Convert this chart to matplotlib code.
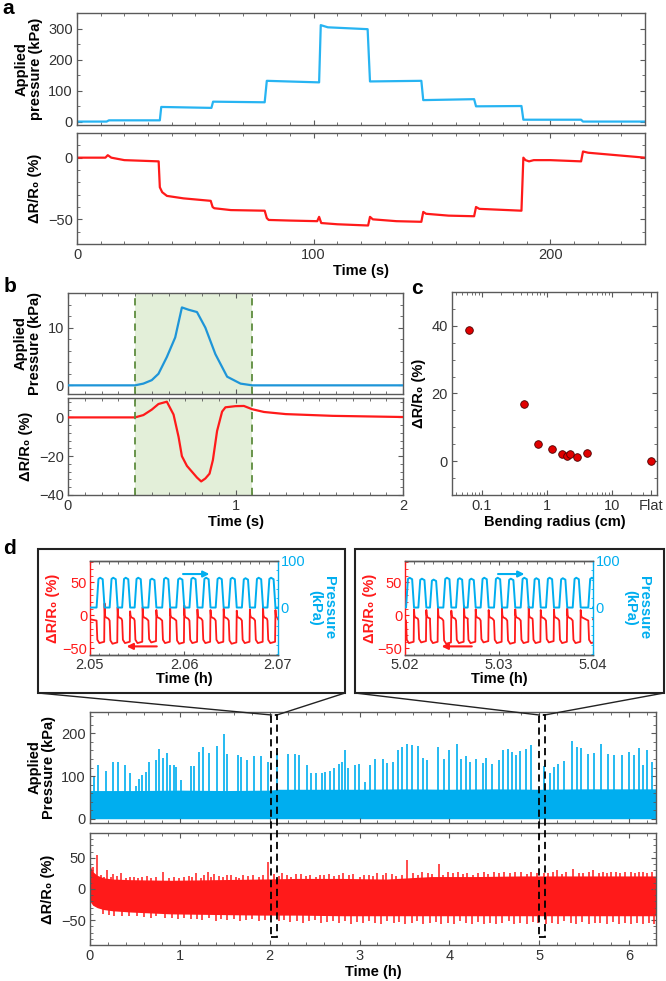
import numpy as np
import matplotlib
matplotlib.use("Agg")
import matplotlib.pyplot as plt
from matplotlib.ticker import MultipleLocator, LogLocator, NullFormatter
from matplotlib.patches import Rectangle
from matplotlib.lines import Line2D
from matplotlib.transforms import blended_transform_factory

plt.rcParams['font.family'] = ['Liberation Sans', 'DejaVu Sans']

# ---------------- data ----------------
# panel a : step pressure test
a_time_p = [0, 12.5, 13.5, 35.0, 35.6, 56.8, 57.5, 79.3, 80.2, 102.3, 103.0, 106.0, 122.8, 123.8,
            145.5, 146.3, 167.8, 168.6, 187.8, 188.6, 213.0, 213.8, 240]
a_pressure = [1, 1, 5, 5, 48, 45, 65, 63, 132, 127, 311, 304, 298, 130,
              132, 70, 73, 50, 51, 7, 7, 1, 1]
a_time_r = [0, 12, 13, 14.5, 20, 34.5, 35, 36, 38, 45, 56.5, 57.3, 58, 65, 79.3, 80.2, 81, 90,
            101.5, 102.3, 103.2, 110, 123, 123.8, 125, 135, 145.5, 146.3, 147.5, 157, 167.8, 168.6,
            170, 187.8, 188.6, 189.5, 191, 193, 200, 213, 213.8, 216, 228, 240]
a_resist = [0, 0, 2, 0, -2, -3, -24, -28, -31, -33, -35, -40, -41, -42.5, -43, -49, -50.5, -51,
            -51.5, -48, -53, -54, -55, -48, -50, -51.5, -52, -44, -45.5, -47, -47.5, -40,
            -41.5, -43, 0, -2, -3, -2, -2, -3, 5, 4, 2, 0]

# panel b : single press
b_time_p = [0, 0.40, 0.45, 0.50, 0.54, 0.59, 0.64, 0.68, 0.72, 0.77, 0.82, 0.88, 0.95, 1.03, 1.10, 2.0]
b_pressure = [0, 0, 0.3, 0.9, 2.0, 4.9, 8.3, 13.5, 13.1, 12.7, 10.0, 5.4, 1.5, 0.3, 0, 0]
b_time_r = [0, 0.40, 0.45, 0.50, 0.54, 0.59, 0.63, 0.66, 0.68, 0.71, 0.735, 0.77, 0.795, 0.82,
            0.845, 0.865, 0.89, 0.92, 0.94, 1.00, 1.05, 1.10, 1.17, 1.30, 1.58, 2.0]
b_resist = [0, 0, 1.2, 4.0, 6.9, 8.1, 1.5, -10, -20, -25, -27.5, -31, -33, -31.5,
            -29, -22, -7, 3, 5.2, 5.8, 5.9, 4.2, 2.8, 1.7, 0.8, 0.2]
b_window = [0.40, 1.10]

# panel c : bending
c_radius = [0.065, 0.45, 0.73, 1.19, 1.72, 2.08, 2.28, 2.92, 4.17, 40]
c_resist = [38.8, 17.0, 5.0, 3.6, 2.0, 1.6, 2.1, 1.3, 2.5, 0.0]
c_xticks = [0.1, 1, 10, 40]
c_xlabels = ['0.1', '1', '10', 'Flat']

# panel d : long-term cycling (envelope of the dense signal + visible peaks)
d_blue_t = [0, 0.5, 1.0, 1.5, 2.0, 2.1, 2.5, 3.0, 3.5, 4.0, 4.5, 5.0, 5.5, 6.0, 6.3]
d_blue_top = [66, 66, 67, 66, 67, 69, 69, 69, 70, 69, 70, 69, 70, 70, 70]
d_bspike_t = [0.04, 0.09, 0.18, 0.26, 0.31, 0.39, 0.45, 0.51, 0.54, 0.58, 0.62, 0.66, 0.73, 0.77,
              0.81, 0.86, 0.89, 0.93, 0.96, 1.01, 1.12, 1.16, 1.21, 1.26, 1.33, 1.41, 1.49, 1.53,
              1.65, 1.68, 1.75, 1.83, 1.90, 1.98, 2.08, 2.20, 2.28, 2.33, 2.41, 2.46, 2.51, 2.58,
              2.62, 2.67, 2.72, 2.77, 2.80, 2.84, 2.87, 2.95, 2.99, 3.06, 3.12, 3.17, 3.26, 3.31,
              3.37, 3.43, 3.47, 3.53, 3.58, 3.65, 3.71, 3.75, 3.87, 3.94, 4.00, 4.08, 4.13, 4.18,
              4.23, 4.30, 4.37, 4.41, 4.47, 4.55, 4.60, 4.65, 4.70, 4.74, 4.79, 4.85, 4.91, 5.05,
              5.12, 5.17, 5.21, 5.28, 5.36, 5.42, 5.47, 5.54, 5.61, 5.69, 5.77, 5.83, 5.92, 6.00,
              6.05, 6.11, 6.16, 6.20, 6.25]
d_bspike_v = [98, 127, 112, 132, 133, 125, 106, 76, 94, 102, 109, 132, 137, 163,
              143, 153, 125, 126, 122, 90, 124, 123, 157, 169, 153, 170, 198, 151,
              149, 145, 137, 147, 147, 133, 153, 151, 151, 149, 127, 108, 108, 108,
              110, 111, 118, 128, 132, 161, 118, 127, 128, 86, 125, 140, 140, 131,
              133, 162, 169, 175, 173, 170, 143, 137, 169, 141, 162, 176, 140, 147,
              133, 140, 131, 143, 128, 137, 161, 164, 157, 149, 158, 163, 172, 123,
              106, 122, 129, 136, 182, 169, 165, 151, 153, 175, 151, 149, 149, 157,
              149, 166, 125, 161, 132]
d_red_t = [0, 0.03, 0.08, 0.15, 0.25, 0.45, 0.9, 1.4, 1.9, 2.3, 2.8, 3.3, 3.8, 4.3, 4.8, 5.3, 5.8, 6.3]
d_red_hi = [38, 28, 22, 18, 16, 15, 14, 15, 16, 17, 17, 16, 20, 20, 21, 21, 21, 21]
d_red_lo = [-20, -26, -30, -33, -35, -37, -40, -41, -42, -42, -43, -43, -43, -43, -43, -43, -43, -43]
d_rspike_t = [0.03, 0.08, 0.19, 0.26, 0.35, 0.58, 0.81, 1.05, 1.18, 1.31, 1.38, 1.52, 1.70, 1.98,
              2.14, 2.35, 2.56, 2.82, 3.05, 3.30, 3.53, 3.70, 3.88, 4.10, 4.32, 4.50, 4.80, 5.05,
              5.20, 5.38, 5.60, 5.80, 5.95, 6.15]
d_rspike_v = [36, 54, 30, 24, 26, 20, 27, 20, 25, 28, 24, 22, 22, 43,
              26, 24, 22, 25, 22, 25, 46, 28, 40, 27, 26, 28, 28, 26,
              30, 32, 30, 28, 27, 28]
d_rtop_t = [0.12, 0.16, 0.23, 0.30, 0.40, 0.44, 0.49, 0.53, 0.63, 0.68,
            0.73, 0.88, 0.93, 0.99, 1.10, 1.14, 1.23, 1.27, 1.35, 1.44,
            1.48, 1.57, 1.62, 1.66, 1.76, 1.81, 1.88, 1.93, 2.05, 2.10,
            2.19, 2.24, 2.29, 2.40, 2.45, 2.52, 2.61, 2.66, 2.72, 2.77,
            2.88, 2.93, 3.00, 3.10, 3.15, 3.20, 3.26, 3.36, 3.41, 3.47,
            3.60, 3.65, 3.76, 3.81, 3.93, 3.98, 4.04, 4.15, 4.20, 4.26,
            4.38, 4.43, 4.55, 4.61, 4.67, 4.73, 4.86, 4.91, 4.97, 5.10,
            5.15, 5.25, 5.30, 5.44, 5.49, 5.55, 5.66, 5.71, 5.76, 5.86,
            5.90, 6.02, 6.07, 6.11, 6.20, 6.26]
d_rtop_v = [22, 20, 19, 21, 18, 20, 19, 18, 21, 17,
            19, 18, 20, 17, 21, 19, 18, 22, 20, 21,
            19, 22, 20, 18, 21, 23, 20, 22, 24, 21,
            22, 20, 24, 21, 23, 20, 22, 24, 21, 23,
            22, 24, 20, 23, 21, 25, 22, 24, 21, 23,
            25, 22, 26, 24, 23, 27, 25, 24, 26, 23,
            27, 24, 26, 28, 25, 27, 24, 28, 26, 25,
            27, 24, 28, 26, 25, 28, 26, 27, 25, 28,
            26, 27, 25, 28, 26, 27]
d_rdip_t = [0.14, 0.21, 0.27, 0.36, 0.43, 0.52, 0.60, 0.68, 0.74, 0.83,
            0.91, 0.98, 1.05, 1.12, 1.19, 1.25, 1.33, 1.40, 1.46, 1.53,
            1.60, 1.67, 1.74, 1.80, 1.88, 1.95, 2.10, 2.16, 2.23, 2.30,
            2.37, 2.44, 2.50, 2.57, 2.64, 2.70, 2.77, 2.84, 2.90, 2.97,
            3.04, 3.11, 3.17, 3.24, 3.31, 3.38, 3.44, 3.51, 3.58, 3.64,
            3.71, 3.78, 3.85, 3.91, 3.98, 4.05, 4.12, 4.18, 4.25, 4.32,
            4.39, 4.45, 4.52, 4.59, 4.66, 4.72, 4.79, 4.86, 4.93, 4.99,
            5.08, 5.14, 5.21, 5.28, 5.35, 5.41, 5.48, 5.55, 5.62, 5.68,
            5.75, 5.82, 5.89, 5.95, 6.02, 6.09, 6.16, 6.22, 6.28]
d_rdip_v = [-40, -41, -43, -43, -44, -43, -45, -46, -44, -47,
            -46, -48, -47, -49, -48, -50, -47, -51, -49, -50,
            -48, -52, -50, -49, -51, -50, -52, -50, -53, -51,
            -54, -52, -50, -55, -53, -51, -54, -52, -56, -53,
            -55, -51, -54, -56, -52, -55, -53, -57, -54, -52,
            -56, -55, -53, -57, -54, -56, -52, -55, -57, -53,
            -56, -54, -57, -55, -52, -56, -54, -57, -53, -55,
            -56, -54, -57, -52, -55, -56, -53, -57, -55, -54,
            -56, -53, -57, -55, -56, -54, -57, -55, -56]
d_windows = [(2.02, 2.08), (5.00, 5.06)]

# panel d insets : individual press cycles
ins_xlim = [(2.05, 2.07), (5.02, 5.04)]
ins_starts = [
    [2.05070, 2.05209, 2.05342, 2.05475, 2.05621, 2.05768, 2.05918, 2.06058, 2.06197,
     2.06337, 2.06476, 2.06616, 2.06756, 2.06888],
    [5.02011, 5.02142, 5.02266, 5.02408, 5.02543, 5.02667, 5.02805, 5.02947, 5.03088,
     5.03231, 5.03359, 5.03500, 5.03641, 5.03784, 5.03950]]
ins_peaks = [[64, 64, 64, 64, 62, 64, 63, 64, 64, 64, 64, 63, 64, 64],
             [64, 62, 60, 64, 63, 62, 64, 64, 62, 64, 63, 64, 63, 64, 64]]
ins_lows = [[-42, -43, -42, -42, -41, -42, -43, -42, -42, -42, -43, -42, -42, -42],
            [-42, -41, -42, -43, -42, -42, -41, -42, -43, -42, -42, -41, -42, -42, -42]]
ins_spikes = [[18, 12, 6, 12, 8, 10, 15, 9, 8, 10, 7, 9, 12, 8],
              [9, 8, 12, 7, 14, 9, 8, 10, 9, 13, 8, 9, 10, 8, 20]]
ins_ticks = [[2.05, 2.06, 2.07], [5.02, 5.03, 5.04]]

# ---------------- style ----------------
BLUE_A = '#27B4F2'
BLUE_B = '#1E95D8'
CYAN = '#00AEEF'
RED = '#FF1A1A'
SP = '#5a5a5a'
W, H = 666, 981
fig = plt.figure(figsize=(W / 100, H / 100), dpi=100)


def add_ax(x0, y0, x1, y1):
    return fig.add_axes([x0 / W, 1 - y1 / H, (x1 - x0) / W, (y1 - y0) / H])


def style(ax, xminor=None, yminor=None):
    for s in ax.spines.values():
        s.set_color(SP)
        s.set_linewidth(1.0)
    ax.tick_params(which='both', direction='in', top=True, right=True, color=SP,
                   labelcolor='#333333', labelsize=10.5, pad=3)
    ax.tick_params(which='major', length=3.5, width=0.8)
    ax.tick_params(which='minor', length=2, width=0.6)
    if xminor:
        ax.xaxis.set_minor_locator(MultipleLocator(xminor))
    if yminor:
        ax.yaxis.set_minor_locator(MultipleLocator(yminor))


LBL = dict(fontweight='bold', fontsize=10.5)
DR = 'ΔR/R₀ (%)'

# ---------------- panel a ----------------
ax = add_ax(77, 13, 645, 125)
ax.plot(a_time_p, a_pressure, color=BLUE_A, lw=1.6)
ax.set_xlim(0, 240)
ax.set_ylim(-10, 350)
ax.set_yticks([0, 100, 200, 300])
ax.set_xticks([0, 100, 200])
style(ax, 10, 50)
ax.tick_params(labelbottom=False)
ax.set_ylabel('Applied\npressure (kPa)', linespacing=1.0, **LBL)

ax = add_ax(77, 133, 645, 244)
ax.plot(a_time_r, a_resist, color=RED, lw=1.6)
ax.set_xlim(0, 240)
ax.set_ylim(-70, 20)
ax.set_yticks([-50, 0])
ax.set_xticks([0, 100, 200])
style(ax, 10, 10)
ax.set_ylabel(DR, **LBL)
ax.set_xlabel('Time (s)', labelpad=1, **LBL)

# ---------------- panel b ----------------
axb1 = add_ax(68, 293, 403, 394)
axb1.plot(b_time_p, b_pressure, color=BLUE_B, lw=1.6, zorder=3)
axb1.set_xlim(0, 2)
axb1.set_ylim(-1.5, 16)
axb1.set_yticks([0, 10])
axb1.set_xticks([0, 1, 2])
style(axb1, 0.1, 2)
axb1.tick_params(labelbottom=False)
axb1.set_ylabel('Applied\nPressure (kPa)', linespacing=1.0, **LBL)

axb2 = add_ax(68, 398, 403, 495)
axb2.plot(b_time_r, b_resist, color=RED, lw=1.6, zorder=3)
axb2.set_xlim(0, 2)
axb2.set_ylim(-40, 10)
axb2.set_yticks([-40, -20, 0])
axb2.set_xticks([0, 1, 2])
style(axb2, 0.1, 4)
axb2.set_ylabel(DR, **LBL)
axb2.set_xlabel('Time (s)', labelpad=1, **LBL)
for a_ in (axb1, axb2):
    a_.axvspan(b_window[0], b_window[1], color='#E3EFD9', lw=0, zorder=0)
tb = blended_transform_factory(axb1.transData, fig.transFigure)
for xv in b_window:
    fig.add_artist(Line2D([xv, xv], [1 - 495 / H, 1 - 293 / H], transform=tb,
                          color='#5E8C3E', ls=(0, (4, 3)), lw=1.3))

# ---------------- panel c ----------------
axc = add_ax(452, 292, 657, 495)
axc.scatter(c_radius, c_resist, s=30, color='#E00000', edgecolor='#4a0000', lw=0.6, zorder=3)
axc.set_xscale('log')
axc.set_xlim(0.035, 50)
axc.set_ylim(-10, 50)
style(axc, None, 5)
axc.set_xticks(c_xticks)
axc.set_xticklabels(c_xlabels)
axc.xaxis.set_minor_locator(LogLocator(base=10, subs=np.arange(2, 10)))
axc.xaxis.set_minor_formatter(NullFormatter())
axc.set_yticks([0, 20, 40])
axc.set_ylabel(DR, **LBL)
axc.set_xlabel('Bending radius (cm)', labelpad=1, **LBL)

# ---------------- panel d main ----------------
axd1 = add_ax(90, 712, 656, 823)
axd1.fill_between(d_blue_t, 0, d_blue_top, color=CYAN, lw=0)
axd1.vlines(d_bspike_t, 0, d_bspike_v, color=CYAN, lw=1.2)
axd1.set_xlim(0, 6.3)
axd1.set_ylim(-10, 250)
axd1.set_yticks([0, 100, 200])
axd1.set_xticks(range(7))
style(axd1, 0.2, 20)
axd1.tick_params(labelbottom=False)
axd1.set_ylabel('Applied\nPressure (kPa)', linespacing=1.0, **LBL)

axd2 = add_ax(90, 833, 656, 945)
axd2.fill_between(d_red_t, d_red_lo, d_red_hi, color=RED, lw=0)
axd2.vlines(d_rtop_t, 0, d_rtop_v, color=RED, lw=1.1)
axd2.vlines(d_rspike_t, 0, d_rspike_v, color=RED, lw=1.1)
axd2.vlines(d_rdip_t, d_rdip_v, 0, color=RED, lw=1.1)
axd2.set_xlim(0, 6.3)
axd2.set_ylim(-90, 90)
axd2.set_yticks([-50, 0, 50])
axd2.set_xticks(range(7))
style(axd2, 0.2, 10)
axd2.set_ylabel(DR, **LBL)
axd2.set_xlabel('Time (h)', labelpad=1, **LBL)

# dashed zoom windows and connector lines
td = blended_transform_factory(axd1.transData, fig.transFigure)
rect_top, rect_bot = 715, 937
boxes = [(38, 345), (355, 664)]
box_top, box_bot = 549, 693
for (w0, w1), (bx0, bx1) in zip(d_windows, boxes):
    fig.add_artist(Rectangle((w0, 1 - rect_bot / H), w1 - w0, (rect_bot - rect_top) / H,
                             transform=td, fill=False, ec='black', ls=(0, (4, 2.5)), lw=1.3,
                             zorder=5))
    px0 = axd1.transData.transform((w0, 0))[0] / W
    px1 = axd1.transData.transform((w1, 0))[0] / W
    fig.add_artist(Line2D([bx0 / W, px0], [1 - box_bot / H, 1 - rect_top / H],
                          transform=fig.transFigure, color='#222222', lw=1.0))
    fig.add_artist(Line2D([bx1 / W, px1], [1 - box_bot / H, 1 - rect_top / H],
                          transform=fig.transFigure, color='#222222', lw=1.0))
    fig.add_artist(Rectangle((bx0 / W, 1 - box_bot / H), (bx1 - bx0) / W, (box_bot - box_top) / H,
                             transform=fig.transFigure, fill=False, ec='#222222', lw=1.5))

# ---------------- panel d insets ----------------
RISE, TOP, FALL = 0.0002, 0.00045, 0.0002
inset_px = [(90, 278), (405, 593)]
label_x = [(53, 322), (370, 637)]
for k in range(2):
    x0p, x1p = inset_px[k]
    axl = add_ax(x0p, 561, x1p, 655)
    axr = axl.twinx()
    xa, xb = ins_xlim[k]
    tp, vp = [xa], [0]
    tr, vr = [xa], [-6]
    for s, pk, lo, spk in zip(ins_starts[k], ins_peaks[k], ins_lows[k], ins_spikes[k]):
        e = s + RISE + TOP + FALL
        tp += [s, s + RISE, s + RISE + TOP * 0.4, s + RISE + TOP, e]
        vp += [0, pk * 0.96, pk, pk * 0.95, 0]
        tr += [s, s + 0.00008, s + 0.0003, e - 0.00004, e, e + 0.00004, e + 0.00012, e + 0.0004]
        vr += [-8, lo + 5, lo, lo + 2, spk, 0, -3, -5]
    tp.append(xb); vp.append(0)
    tr.append(xb); vr.append(-6)
    axl.plot(tr, vr, color=RED, lw=1.3)
    axr.plot(tp, vp, color=CYAN, lw=1.4)
    axl.set_xlim(xa, xb)
    axl.set_ylim(-60, 82)
    axr.set_ylim(-102, 100)
    axl.set_xticks(ins_ticks[k])
    axl.set_xticklabels([f'{v:.2f}' for v in ins_ticks[k]])
    axl.set_yticks([-50, 0, 50])
    axr.set_yticks([0, 100])
    for a_ in (axl, axr):
        for s in a_.spines.values():
            s.set_color(SP)
            s.set_linewidth(1.0)
    axl.spines['left'].set_color(RED)
    axr.spines['right'].set_color(CYAN)
    axr.spines['left'].set_visible(False)
    axl.spines['right'].set_visible(False)
    axl.tick_params(which='both', direction='in', top=True, right=False, labelsize=10.5, pad=2)
    axl.tick_params(axis='x', which='both', color=SP, labelcolor='#333333')
    axl.tick_params(axis='y', which='both', color=RED, labelcolor=RED)
    axr.tick_params(which='both', direction='in', color=CYAN, labelcolor=CYAN, labelsize=10.5, pad=2)
    for a_ in (axl, axr):
        a_.tick_params(which='major', length=3, width=0.8)
        a_.tick_params(which='minor', length=1.8, width=0.6)
    axl.xaxis.set_minor_locator(MultipleLocator(0.001))
    axl.yaxis.set_minor_locator(MultipleLocator(10))
    axr.yaxis.set_minor_locator(MultipleLocator(20))
    axl.set_xlabel('Time (h)', labelpad=0, **LBL)
    span = xb - xa
    axr.annotate('', xy=(xa + span * 0.65, 72), xytext=(xa + span * 0.48, 72),
                 arrowprops=dict(arrowstyle='-|>', color=CYAN, lw=1.5, mutation_scale=9))
    axl.annotate('', xy=(xa + span * 0.18, -47), xytext=(xa + span * 0.37, -47),
                 arrowprops=dict(arrowstyle='-|>', color=RED, lw=1.5, mutation_scale=9))
    lx, rx = label_x[k]
    fig.text(lx / W, 1 - 608 / H, DR, rotation=90, ha='center', va='center', color=RED, **LBL)
    fig.text(rx / W, 1 - 608 / H, 'Pressure\n(kPa)', rotation=270, ha='center', va='center',
             color=CYAN, linespacing=1.0, multialignment='center', **LBL)

# panel letters
for letter, (x, y) in {'a': (8, 9), 'b': (10, 287), 'c': (417, 288), 'd': (10, 549)}.items():
    fig.text(x / W, 1 - y / H, letter, fontsize=15, fontweight='bold', ha='center', va='center')

fig.savefig('out.png', dpi=100)
